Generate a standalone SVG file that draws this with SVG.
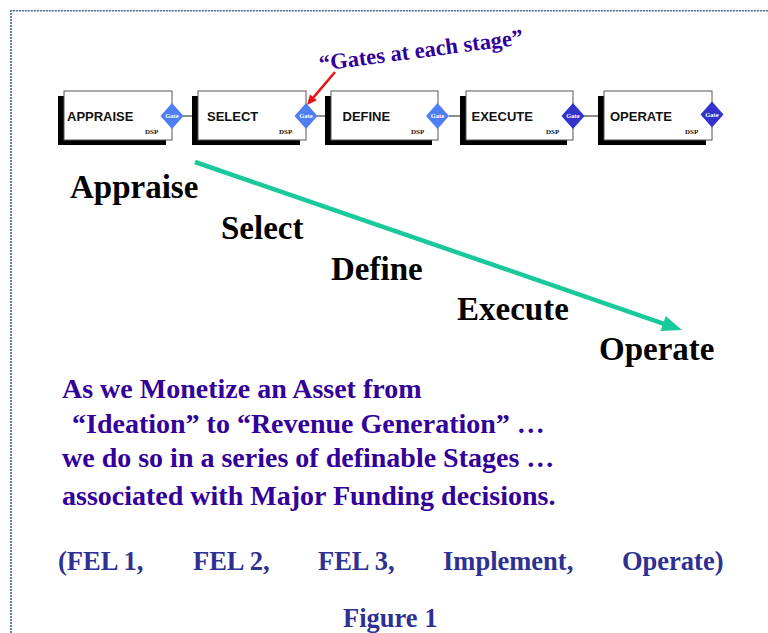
<svg xmlns="http://www.w3.org/2000/svg" width="768" height="633" viewBox="0 0 768 633">
  <defs>
    <style>
      .frame { fill: none; stroke: #3f6396; stroke-width: 1.6; stroke-dasharray: 2 1; }
      .shadow { fill: #000; }
      .box { fill: #fff; stroke: #555; stroke-width: 1; }
      .label { font-family: "Liberation Sans", Arial, sans-serif; font-weight: bold; font-size: 13px; fill: #111; }
      .dsp { font-family: "Liberation Serif", "Times New Roman", serif; font-weight: bold; font-size: 7px; fill: #111; }
      .gate-light { fill: #4f7ef2; }
      .gate-dark { fill: #3333cc; }
      .gate-text { font-family: "Liberation Serif", "Times New Roman", serif; font-weight: bold; font-size: 6.5px; fill: #fff; text-anchor: middle; }
      .link { stroke: #666; stroke-width: 1.5; }
      .stage { font-family: "Liberation Serif", "Times New Roman", serif; font-weight: bold; font-size: 33px; fill: #000; }
      .note { font-family: "Liberation Serif", "Times New Roman", serif; font-weight: bold; font-size: 28px; fill: #330099; }
      .fel { font-family: "Liberation Serif", "Times New Roman", serif; font-weight: bold; font-size: 26.5px; fill: #2e3192; }
      .callout { font-family: "Liberation Serif", "Times New Roman", serif; font-weight: bold; font-size: 22.5px; fill: #330099; }
    </style>
  </defs>

  <rect width="768" height="633" fill="#fff"/>

  <!-- page frame -->
  <path class="frame" d="M11 633 V10.8 H768"/>

  <!-- connectors -->
  <g id="connectors">
    <line class="link" x1="183" y1="116" x2="198" y2="116"/>
    <line class="link" x1="317" y1="116" x2="331" y2="116"/>
    <line class="link" x1="449" y1="116" x2="466" y2="116"/>
    <line class="link" x1="584" y1="116" x2="604" y2="116"/>
    <!-- progression arrow -->
    <line x1="195" y1="162" x2="664" y2="323.8" stroke="#19c99a" stroke-width="4.5"/>
    <polygon points="682,330 665.7,315.9 660.5,331.1" fill="#19c99a"/>
    <!-- callout pointer -->
    <line x1="335" y1="72" x2="313.5" y2="97.4" stroke="#ee1111" stroke-width="2.5"/>
    <polygon points="307,105 316.9,100.3 310,94.5" fill="#ee1111"/>
  </g>

  <g id="stage-appraise">
    <rect class="shadow" x="58" y="96" width="108" height="49"/>
    <rect class="box" x="64" y="91" width="108" height="49"/>
    <text class="label" x="67" y="121">APPRAISE</text>
    <text class="dsp" x="145" y="134">DSP</text>
    <polygon class="gate-light" points="172,103 183.5,116 172,129 160.5,116"/>
    <text class="gate-text" x="172" y="118.3">Gate</text>
  </g>

  <g id="stage-select">
    <rect class="shadow" x="192" y="96" width="108" height="49"/>
    <rect class="box" x="198" y="91" width="108" height="49"/>
    <text class="label" x="207" y="121">SELECT</text>
    <text class="dsp" x="279" y="134">DSP</text>
    <polygon class="gate-light" points="306,103 317.5,116 306,129 294.5,116"/>
    <text class="gate-text" x="306" y="118.3">Gate</text>
  </g>

  <g id="stage-define">
    <rect class="shadow" x="325" y="96" width="107" height="49"/>
    <rect class="box" x="331" y="91" width="107" height="49"/>
    <text class="label" x="342.5" y="121">DEFINE</text>
    <text class="dsp" x="411" y="134">DSP</text>
    <polygon class="gate-light" points="437.5,103 449,116 437.5,129 426,116"/>
    <text class="gate-text" x="437.5" y="118.3">Gate</text>
  </g>

  <g id="stage-execute">
    <rect class="shadow" x="460" y="96" width="107" height="49"/>
    <rect class="box" x="466" y="91" width="107" height="49"/>
    <text class="label" x="471.5" y="121">EXECUTE</text>
    <text class="dsp" x="546" y="134">DSP</text>
    <polygon class="gate-dark" points="573,103 584.5,116 573,129 561.5,116"/>
    <text class="gate-text" x="573" y="118.3">Gate</text>
  </g>

  <g id="stage-operate">
    <rect class="shadow" x="598" y="96" width="108" height="49"/>
    <rect class="box" x="604" y="91" width="108" height="49"/>
    <text class="label" x="610" y="121">OPERATE</text>
    <text class="dsp" x="685" y="134">DSP</text>
    <polygon class="gate-dark" points="712,101.5 723.5,114.5 712,127.5 700.5,114.5"/>
    <text class="gate-text" x="712" y="116.8">Gate</text>
  </g>

  <!-- callout -->
  <text class="callout" transform="translate(320 71) rotate(-7.5)">“Gates at each stage”</text>

  <!-- stage names along the arrow -->
  <text class="stage" x="70" y="198">Appraise</text>
  <text class="stage" x="221" y="239">Select</text>
  <text class="stage" x="331" y="280">Define</text>
  <text class="stage" x="457" y="320">Execute</text>
  <text class="stage" x="599" y="360">Operate</text>

  <!-- statement -->
  <text class="note" x="62" y="398">As we Monetize an Asset from</text>
  <text class="note" x="72" y="433">“Ideation” to “Revenue Generation” …</text>
  <text class="note" x="62" y="467">we do so in a series of definable Stages …</text>
  <text class="note" x="62" y="505">associated with Major Funding decisions.</text>

  <!-- funding phases -->
  <text class="fel" x="58" y="570">(FEL 1,</text>
  <text class="fel" x="193" y="570">FEL 2,</text>
  <text class="fel" x="318" y="570">FEL 3,</text>
  <text class="fel" x="443" y="570">Implement,</text>
  <text class="fel" x="622" y="570">Operate)</text>

  <text class="fel" x="343" y="627">Figure 1</text>
</svg>
